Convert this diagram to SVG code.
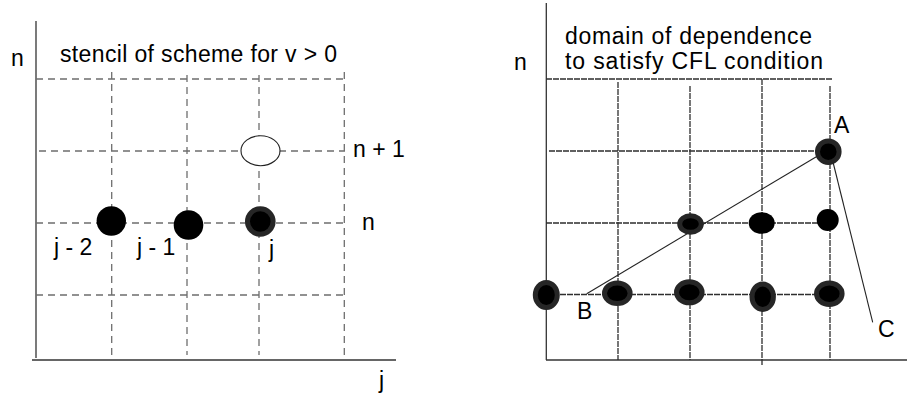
<svg xmlns="http://www.w3.org/2000/svg" width="907" height="402" viewBox="0 0 907 402">
<style>
text{font-family:"Liberation Sans",Arial,Helvetica,sans-serif;font-size:23px;fill:#000}
.axis{stroke:#333;stroke-width:1.3;fill:none}
.gl{stroke:#6e6e6e;stroke-width:1.3;stroke-dasharray:7 5;fill:none}
.gr{stroke:#2e2e2e;stroke-width:1.3;stroke-dasharray:6 1;fill:none}
.dot{fill:#000}
.ring{fill:#000;stroke:#262626;stroke-width:5}
.conn{stroke:#222;stroke-width:1.1;fill:none}
</style>
<rect width="907" height="402" fill="#fff"/>

<!-- Left panel -->
<g id="left-grid">
<line class="axis" x1="36" y1="21" x2="36" y2="358"/>
<line class="axis" x1="32" y1="360" x2="396" y2="360"/>
<line class="gl" x1="36" y1="79" x2="345" y2="79"/>
<line class="gl" x1="39" y1="151" x2="345" y2="151"/>
<line class="gl" x1="36" y1="223" x2="346" y2="223"/>
<line class="gl" x1="36" y1="295" x2="345" y2="295"/>
<line class="gl" x1="111.7" y1="72" x2="111.7" y2="355"/>
<line class="gl" x1="187" y1="75" x2="187" y2="355"/>
<line class="gl" x1="259" y1="75" x2="259" y2="355"/>
<line class="gl" x1="344.3" y1="72" x2="344.3" y2="355"/>
</g>
<g id="left-labels">
<text x="11" y="66">n</text>
<text x="60" y="62" textLength="277" lengthAdjust="spacing">stencil of scheme for v &gt; 0</text>
<text x="353" y="157">n + 1</text>
<text x="362" y="230">n</text>
<text x="379" y="388">j</text>
</g>
<g id="node-n1">
<ellipse cx="260.5" cy="150.7" rx="19.5" ry="15" fill="#fff" stroke="#222" stroke-width="1.1"/>
</g>
<g id="node-jm2">
<circle class="dot" cx="111.3" cy="221" r="14.7"/>
<text x="54" y="255">j - 2</text>
</g>
<g id="node-jm1">
<circle class="dot" cx="188.5" cy="225" r="14.8"/>
<text x="137" y="255">j - 1</text>
</g>
<g id="node-j">
<circle class="ring" cx="260.3" cy="221.5" r="12.8"/>
<text x="269" y="257">j</text>
</g>

<!-- Right panel -->
<g id="right-grid">
<line class="axis" x1="546.3" y1="3" x2="546.3" y2="360"/>
<line class="axis" x1="546" y1="360" x2="907" y2="360"/>
<line class="gr" x1="546" y1="79" x2="833" y2="79"/>
<line class="gr" x1="549" y1="151" x2="828" y2="151"/>
<line class="gr" x1="546" y1="223" x2="828" y2="223"/>
<line class="gr" x1="546" y1="294.5" x2="830" y2="294.5"/>
<line class="gr" x1="618" y1="82" x2="618" y2="360"/>
<line class="gr" x1="690" y1="86" x2="690" y2="360"/>
<line class="gr" x1="762" y1="79" x2="762" y2="366"/>
<line class="gr" x1="830" y1="86" x2="830" y2="360"/>
</g>
<g id="right-labels">
<text x="514" y="70">n</text>
<text x="565" y="44" textLength="247" lengthAdjust="spacing">domain of dependence</text>
<text x="565" y="68.5" textLength="258" lengthAdjust="spacing">to satisfy CFL condition</text>
</g>
<g id="connectors">
<line class="conn" x1="826" y1="151" x2="586.7" y2="293.7"/>
<line class="conn" x1="832" y1="158" x2="872.7" y2="322.3"/>
</g>
<g id="node-A">
<circle class="ring" cx="828.3" cy="151.7" r="10.8"/>
<text x="834" y="133">A</text>
</g>
<g id="node-B">
<text x="577" y="319">B</text>
</g>
<g id="node-C">
<text x="878" y="337">C</text>
</g>
<g id="node-r2c2">
<ellipse class="ring" cx="690.5" cy="224" rx="10.8" ry="8.3"/>
</g>
<g id="node-r2c3">
<ellipse class="dot" cx="761.7" cy="223" rx="13" ry="10.8"/>
</g>
<g id="node-r2c4">
<circle class="dot" cx="827.7" cy="220" r="11"/>
</g>
<g id="node-r3c0">
<ellipse class="ring" cx="546.3" cy="295" rx="11" ry="12.5"/>
</g>
<g id="node-r3c1">
<ellipse class="ring" cx="617.3" cy="293.3" rx="12.8" ry="10.3"/>
</g>
<g id="node-r3c2">
<ellipse class="ring" cx="689.3" cy="292.3" rx="12.8" ry="10.5"/>
</g>
<g id="node-r3c3">
<ellipse class="ring" cx="762.7" cy="296.7" rx="10.7" ry="12.8"/>
</g>
<g id="node-r3c4">
<ellipse class="ring" cx="829.3" cy="293.7" rx="12.8" ry="10.7"/>
</g>
</svg>
